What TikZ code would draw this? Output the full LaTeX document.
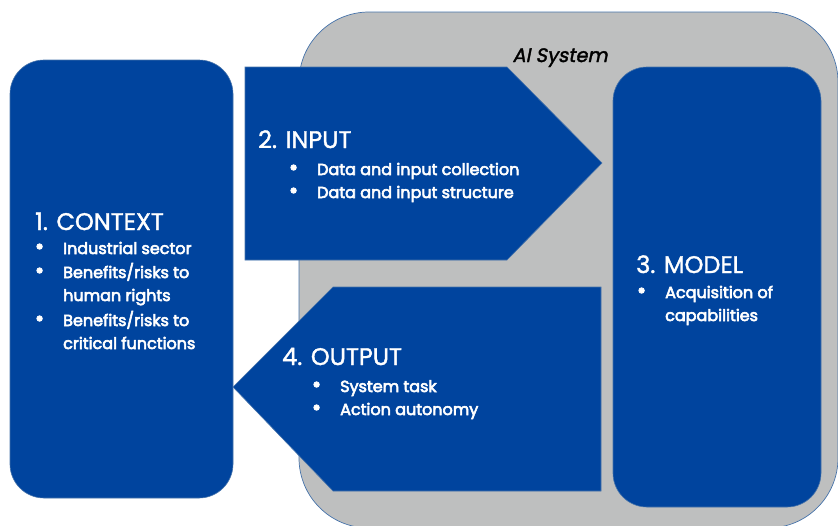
\documentclass[tikz,border=0pt]{standalone}
\usepackage{fontspec}
\setmainfont{Poppins}
\newfontfamily\headfont{Poppins}[FakeBold=1.5]
\newfontfamily\bodyfont{Poppins}[FakeBold=3.5]
\newfontfamily\titlefont{Poppins}[FakeBold=1.8,FakeSlant=0.2]
\definecolor{boxblue}{RGB}{0,68,158}
\definecolor{sysgray}{RGB}{190,191,191}
\definecolor{edgeblue}{RGB}{70,115,170}
\newcommand{\blt}{\makebox[0pt][r]{\scalebox{1.4}{\textbullet}\hspace{19pt}}}
\begin{document}
\begin{tikzpicture}[x=1pt,y=-1pt,
  bluebox/.style={fill=boxblue,draw=edgeblue,line width=0.6pt},
  head/.style={anchor=base west,inner sep=0pt,text=white,font=\headfont\fontsize{24}{28}\selectfont},
  item/.style={anchor=base west,inner sep=0pt,text=white,font=\bodyfont\fontsize{16}{19}\selectfont},
  systitle/.style={anchor=base,inner sep=0pt,text=black,font=\titlefont\fontsize{19.5}{22}\selectfont}]
\useasboundingbox (0,0) rectangle (838,525);
\clip (0,0) rectangle (838,525);

% AI system container
\draw[fill=sysgray,draw=edgeblue,line width=0.7pt,rounded corners=70pt]
  (299,12) rectangle (838,528);
\node[systitle] (sys) at (560,62) {AI System};

% 1. Context
\draw[bluebox,rounded corners=34pt] (10,60) rectangle (233,498);
\node[head] (ctxh) at (35,230) {1. CONTEXT};
\node[item] (ctx1) at (63,254) {\blt Industrial sector};
\node[item] (ctx2) at (63,278) {\blt Benefits/risks to};
\node[item] (ctx3) at (63,301) {human rights};
\node[item] (ctx4) at (63,326) {\blt Benefits/risks to};
\node[item] (ctx5) at (63,349) {critical functions};

% 2. Input
\draw[bluebox] (245,67) -- (507,67) -- (602,163) -- (507,260) -- (245,260) -- cycle;
\node[head] (inh) at (258,148) {2. INPUT};
\node[item] (in1) at (317,175) {\blt Data and input collection};
\node[item] (in2) at (317,198) {\blt Data and input structure};

% 3. Model
\draw[bluebox,rounded corners=34pt] (613,67) rectangle (821,507);
\node[head] (mdh) at (636,273) {3. MODEL};
\node[item] (md1) at (665,298) {\blt Acquisition of};
\node[item] (md2) at (665,321) {capabilities};

% 4. Output
\draw[bluebox] (601,287) -- (333,287) -- (233,387) -- (333,491) -- (601,491) -- cycle;
\node[head] (outh) at (282,365) {4. OUTPUT};
\node[item] (out1) at (340,392) {\blt System task};
\node[item] (out2) at (340,415) {\blt Action autonomy};
\end{tikzpicture}
\end{document}
